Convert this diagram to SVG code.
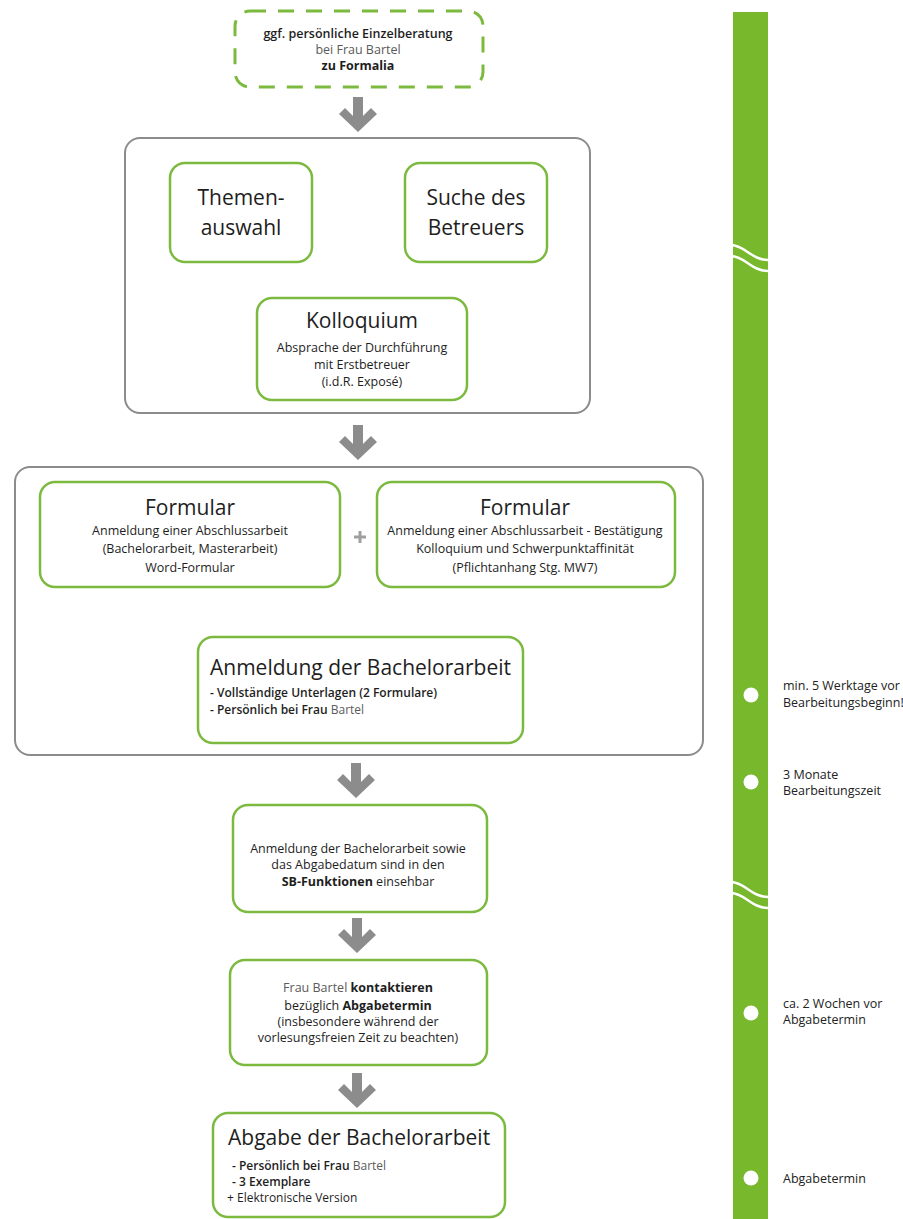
<svg xmlns="http://www.w3.org/2000/svg" xmlns:xlink="http://www.w3.org/1999/xlink" width="903" height="1219" viewBox="0 0 903 1219">
<style>
text{font-family:"Open Sans","Noto Sans","Liberation Sans",sans-serif;fill:#1e1e1e}
.g{fill:none;stroke:#7cba3f;stroke-width:2.5}
.gd{fill:none;stroke:#7cba3f;stroke-width:3;stroke-dasharray:16 12}
.c{fill:none;stroke:#8c8c8c;stroke-width:2}
.t{font-size:21px}
.s{font-size:12.5px}
.l{font-size:12px}
.m{text-anchor:middle}
.b{font-weight:700}
.sb{font-weight:600}
.gr{fill:#5a5a5a;font-weight:400}
.lab{font-size:12.5px;fill:#222}
.wv{fill:none;stroke:#fff;stroke-width:2.5}
</style>
<defs>
<path id="arr" d="M-5,0 H5 V19 L13,11 L19,17 L0,35 L-19,17 L-13,11 L-5,19 Z" fill="#8c8c8c"/>
</defs>

<g id="timeline">
<rect x="733" y="12" width="35" height="1207" fill="#77b82c"/>
<path class="wv" d="M731,245 C745,245 752,261 770,260"/>
<path class="wv" d="M731,256 C745,256 752,272 770,271"/>
<path class="wv" d="M731,882 C745,882 752,898 770,897"/>
<path class="wv" d="M731,893 C745,893 752,909 770,908"/>
<circle cx="751" cy="695" r="7.5" fill="#fff"/>
<circle cx="751" cy="782" r="7.5" fill="#fff"/>
<circle cx="751" cy="1013" r="7.5" fill="#fff"/>
<circle cx="751" cy="1178" r="7.5" fill="#fff"/>
<text class="lab" x="783" y="690">min. 5 Werktage vor</text>
<text class="lab" x="783" y="707">Bearbeitungsbeginn!</text>
<text class="lab" x="783" y="779">3 Monate</text>
<text class="lab" x="783" y="795">Bearbeitungszeit</text>
<text class="lab" x="783" y="1008">ca. 2 Wochen vor</text>
<text class="lab" x="783" y="1024">Abgabetermin</text>
<text class="lab" x="783" y="1183">Abgabetermin</text>
</g>

<g id="connectors">
<use xlink:href="#arr" x="358" y="97"/>
<use xlink:href="#arr" x="358" y="425"/>
<use xlink:href="#arr" x="356" y="763"/>
<use xlink:href="#arr" x="357" y="918"/>
<use xlink:href="#arr" x="357" y="1073"/>
<path d="M360,531 V543 M354,537 H366" stroke="#a0a0a0" stroke-width="3" fill="none"/>
</g>

<g id="beratung">
<rect class="gd" x="235" y="11" width="248" height="76" rx="15"/>
<text class="s m sb" x="358" y="38">ggf. persönliche Einzelberatung</text>
<text class="s m gr" x="358" y="54">bei Frau Bartel</text>
<text class="s m b" x="358" y="70">zu Formalia</text>
</g>

<g id="phase1">
<rect class="c" x="125" y="138" width="465" height="275" rx="15"/>
</g>
<g id="themenauswahl">
<rect class="g" x="170" y="163" width="142" height="99" rx="15"/>
<text class="t m" x="241" y="205">Themen-</text>
<text class="t m" x="241" y="235">auswahl</text>
</g>
<g id="betreuer">
<rect class="g" x="405" y="163" width="142" height="99" rx="15"/>
<text class="t m" x="476" y="205">Suche des</text>
<text class="t m" x="476" y="235">Betreuers</text>
</g>
<g id="kolloquium">
<rect class="g" x="257" y="298" width="210" height="102" rx="15"/>
<text class="t m" x="362" y="328">Kolloquium</text>
<text class="s m" x="362" y="352">Absprache der Durchführung</text>
<text class="s m" x="362" y="369">mit Erstbetreuer</text>
<text class="s m" x="362" y="386">(i.d.R. Exposé)</text>
</g>

<g id="phase2">
<rect class="c" x="15" y="467" width="688" height="288" rx="15"/>
</g>
<g id="formular1">
<rect class="g" x="40" y="482" width="300" height="105" rx="15"/>
<text class="t m" x="190" y="515">Formular</text>
<text class="s m" x="190" y="535">Anmeldung einer Abschlussarbeit</text>
<text class="s m" x="190" y="553">(Bachelorarbeit, Masterarbeit)</text>
<text class="s m" x="190" y="572">Word-Formular</text>
</g>
<g id="formular2">
<rect class="g" x="377" y="482" width="298" height="105" rx="15"/>
<text class="t m" x="525" y="515">Formular</text>
<text class="s m" x="525" y="535">Anmeldung einer Abschlussarbeit - Bestätigung</text>
<text class="s m" x="525" y="553">Kolloquium und Schwerpunktaffinität</text>
<text class="s m" x="525" y="572">(Pflichtanhang Stg. MW7)</text>
</g>
<g id="anmeldung">
<rect class="g" x="198" y="637" width="325" height="106" rx="15"/>
<text class="t" x="210" y="675">Anmeldung der Bachelorarbeit</text>
<text class="l sb" x="210" y="697">- Vollständige Unterlagen (2 Formulare)</text>
<text class="l sb" x="210" y="714">- Persönlich bei Frau<tspan class="gr"> Bartel</tspan></text>
</g>

<g id="sbfunktionen">
<rect class="g" x="233" y="805" width="254" height="107" rx="15"/>
<text class="s m" x="358" y="853">Anmeldung der Bachelorarbeit sowie</text>
<text class="s m" x="358" y="869">das Abgabedatum sind in den</text>
<text class="s m" x="358" y="886"><tspan class="b">SB-Funktionen</tspan> einsehbar</text>
</g>

<g id="kontakt">
<rect class="g" x="230" y="960" width="257" height="105" rx="15"/>
<text class="s m" x="358" y="992"><tspan class="gr">Frau Bartel</tspan><tspan class="b"> kontaktieren</tspan></text>
<text class="s m" x="358" y="1010">bezüglich <tspan class="b">Abgabetermin</tspan></text>
<text class="s m" x="358" y="1026">(insbesondere während der</text>
<text class="s m" x="358" y="1042">vorlesungsfreien Zeit zu beachten)</text>
</g>

<g id="abgabe">
<rect class="g" x="213" y="1113" width="292" height="104" rx="15"/>
<text class="t" x="228" y="1145">Abgabe der Bachelorarbeit</text>
<text class="l sb" x="232" y="1170">- Persönlich bei Frau<tspan class="gr"> Bartel</tspan></text>
<text class="l sb" x="232" y="1186">- 3 Exemplare</text>
<text class="l" x="227" y="1202">+ Elektronische Version</text>
</g>
</svg>
